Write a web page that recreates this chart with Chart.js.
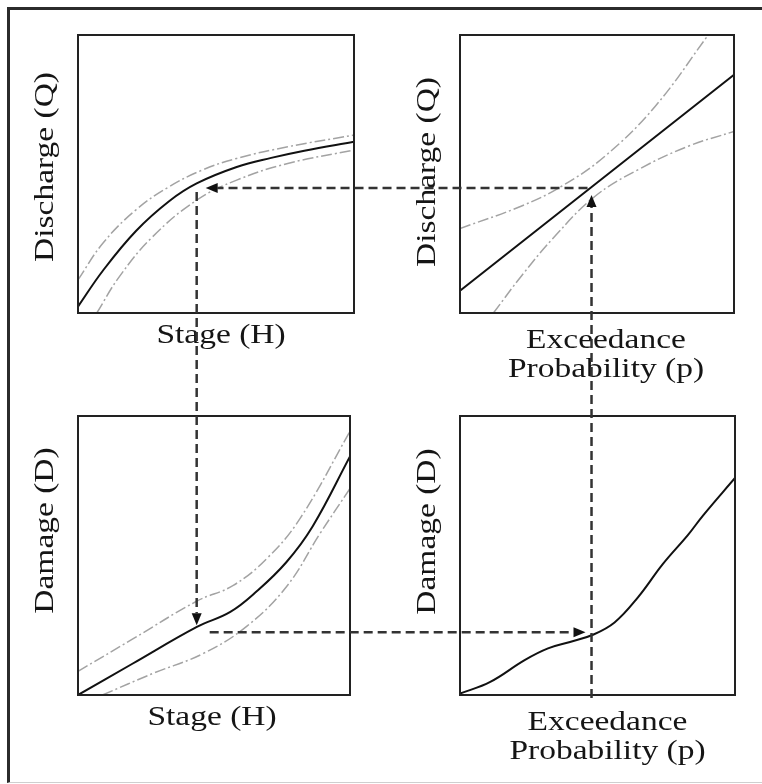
<!DOCTYPE html>
<html>
<head>
<meta charset="utf-8">
<script src="https://cdn.jsdelivr.net/npm/chart.js@4.4.1/dist/chart.umd.min.js"></script>
<style>
  html, body { margin: 0; padding: 0; background: #fff; }
  #page { position: relative; width: 762px; height: 784px; overflow: hidden; }
  #frame {
    position: absolute; left: 7px; top: 7px; width: 760px; height: 772px;
    border-left: 3px solid #2b2b2b; border-top: 3px solid #2b2b2b; border-bottom: 1px solid #cfcfcf;
  }
  canvas { position: absolute; left: 0; top: 0; }
</style>
</head>
<body>
<div id="page">
  <div id="frame"></div>
  <canvas id="tl" width="762" height="784"></canvas>
  <canvas id="tr" width="762" height="784"></canvas>
  <canvas id="bl" width="762" height="784"></canvas>
  <canvas id="br" width="762" height="784"></canvas>
</div>
<script>
// Stage-discharge (rating curve), top left
const stageH = [0, 0.09, 0.21, 0.33, 0.43, 0.575, 0.70, 0.82, 1.0];
const dischargeQ = [0.023, 0.152, 0.295, 0.402, 0.466, 0.525, 0.558, 0.584, 0.616];
const stageUpperH = [0, 0.09, 0.21, 0.33, 0.45, 0.575, 0.76, 1.0];
const dischargeUpperQ = [0.119, 0.251, 0.371, 0.454, 0.514, 0.556, 0.598, 0.640];
const stageLowerH = [0.068, 0.15, 0.27, 0.43, 0.575, 0.76, 1.0];
const dischargeLowerQ = [0, 0.131, 0.274, 0.406, 0.478, 0.538, 0.586];

// Discharge-frequency, top right
const probP = [0, 1];
const freqQ = [0.08, 0.857];
const probUpperP = [0, 0.225, 0.371, 0.529, 0.712, 0.906];
const freqUpperQ = [0.304, 0.385, 0.456, 0.564, 0.743, 1.0];
const probLowerP = [0.122, 0.225, 0.347, 0.493, 0.651, 0.833, 1.0];
const freqLowerQ = [0, 0.134, 0.277, 0.420, 0.516, 0.600, 0.653];

// Stage-damage, bottom left
const dmgStageH = [0, 0.2, 0.437, 0.56, 0.655, 0.765, 0.863, 1.0];
const damageD = [0, 0.112, 0.244, 0.298, 0.37, 0.475, 0.605, 0.855];
const dmgStageUpperH = [0, 0.2, 0.436, 0.571, 0.694, 0.816, 1.0];
const damageUpperD = [0.085, 0.2, 0.336, 0.393, 0.489, 0.632, 0.945];
const dmgStageLowerH = [0.09, 0.277, 0.461, 0.62, 0.767, 0.89, 1.0];
const damageLowerD = [0, 0.078, 0.149, 0.246, 0.389, 0.579, 0.74];

// Damage-frequency, bottom right
const dmgProbP = [0, 0.11, 0.235, 0.32, 0.40, 0.481, 0.562, 0.647, 0.738, 0.83, 0.885, 1.0];
const dmgFreqD = [0.005, 0.047, 0.125, 0.167, 0.19, 0.215, 0.26, 0.35, 0.47, 0.575, 0.645, 0.778];

// Values traced by the dashed arrows
const pStar = 0.48;
const qStar = 0.45;
const hStar = 0.43;
const dStar = 0.225;

// Axis titles
const stageTitle = ['Stage (H)'];
const probTitle = ['Exceedance', 'Probability (p)'];
const dischargeTitle = 'Discharge (Q)';
const damageTitle = 'Damage (D)';

const W = 762, H = 784;
const FONT = '27px "Liberation Serif", "Times New Roman", serif';
const STRETCH = 1.24;

function pts(xs, ys) {
  return xs.map((x, i) => ({ x: x, y: ys[i] }));
}

function band(xs, ys) {
  return {
    data: pts(xs, ys),
    borderColor: '#a3a3a3',
    borderWidth: 1.5,
    borderDash: [11, 3, 2, 3],
    pointRadius: 0,
    tension: 0.4
  };
}

function mainLine(xs, ys) {
  return {
    data: pts(xs, ys),
    borderColor: '#111',
    borderWidth: 2,
    pointRadius: 0,
    tension: 0.4
  };
}

// box around the plot area + the stretched serif axis titles
const panelPlugin = {
  id: 'panel',
  afterDraw(chart, args, opts) {
    const ctx = chart.ctx;
    const a = chart.chartArea;
    ctx.save();
    ctx.strokeStyle = '#222';
    ctx.lineWidth = 2;
    ctx.setLineDash([]);
    ctx.strokeRect(a.left, a.top, a.right - a.left, a.bottom - a.top);

    ctx.fillStyle = '#151515';
    ctx.font = FONT;
    ctx.textAlign = 'center';
    ctx.textBaseline = 'alphabetic';
    const cx = (a.left + a.right) / 2 + opts.xShift;
    opts.xTitle.forEach((line, i) => {
      ctx.save();
      ctx.translate(cx, a.bottom + opts.xBase + i * 29);
      ctx.scale(STRETCH, 1);
      ctx.fillText(line, 0, 0);
      ctx.restore();
    });
    ctx.save();
    ctx.translate(a.left - 25, (a.top + a.bottom) / 2 + opts.yShift);
    ctx.rotate(-Math.PI / 2);
    ctx.scale(STRETCH, 1);
    ctx.fillText(opts.yTitle, 0, 0);
    ctx.restore();
    ctx.restore();
  }
};

function arrowHead(ctx, x, y, dx, dy) {
  const len = 12, half = 5;
  const bx = x - dx * len, by = y - dy * len;
  ctx.beginPath();
  ctx.moveTo(x, y);
  ctx.lineTo(bx - dy * half, by + dx * half);
  ctx.lineTo(bx + dy * half, by - dx * half);
  ctx.closePath();
  ctx.fill();
}

function dashed(ctx, x1, y1, x2, y2) {
  ctx.beginPath();
  ctx.moveTo(x1, y1);
  ctx.lineTo(x2, y2);
  ctx.stroke();
}

let tlChart, trChart, blChart;

// the dashed path p -> Q -> H -> D -> p, drawn over all four panels
const arrowPlugin = {
  id: 'arrows',
  afterDraw(chart) {
    const ctx = chart.ctx;
    const pX = trChart.scales.x.getPixelForValue(pStar);
    const qTR = trChart.scales.y.getPixelForValue(qStar);
    const qY = tlChart.scales.y.getPixelForValue(qStar);
    const hX = tlChart.scales.x.getPixelForValue(hStar);
    const dY = chart.scales.y.getPixelForValue(dStar);
    const baseY = chart.scales.y.getPixelForValue(0);

    ctx.save();
    ctx.strokeStyle = '#333';
    ctx.fillStyle = '#111';
    ctx.lineWidth = 2.5;
    ctx.setLineDash([9, 5]);

    // up from the probability axis to the frequency curve
    const tipA = qTR + 7;
    dashed(ctx, pX, baseY + 3, pX, tipA + 12);
    // left to the rating curve
    const tipB = hX + 9;
    dashed(ctx, pX - 4, qY, tipB + 12, qY);
    // down to the stage-damage curve
    const tipC = dY - 7;
    dashed(ctx, hX, qY + 4, hX, tipC - 12);
    // right to the damage-frequency curve
    const tipD = pX - 6;
    dashed(ctx, hX + 13, dY, tipD - 12, dY);

    ctx.setLineDash([]);
    arrowHead(ctx, pX, tipA, 0, -1);
    arrowHead(ctx, tipB, qY, -1, 0);
    arrowHead(ctx, hX, tipC, 0, 1);
    arrowHead(ctx, tipD, dY, 1, 0);
    ctx.restore();
  }
};

function makeChart(id, rect, datasets, titles, extra) {
  return new Chart(document.getElementById(id), {
    type: 'line',
    data: { datasets: datasets },
    options: {
      responsive: false,
      animation: false,
      devicePixelRatio: 1,
      events: [],
      layout: {
        padding: { left: rect[0], top: rect[1], right: W - rect[2], bottom: H - rect[3] }
      },
      scales: {
        x: { type: 'linear', min: 0, max: 1, display: false },
        y: { type: 'linear', min: 0, max: 1, display: false }
      },
      plugins: {
        legend: { display: false },
        tooltip: { enabled: false },
        panel: titles
      }
    },
    plugins: [panelPlugin].concat(extra || [])
  });
}

tlChart = makeChart('tl', [78, 35, 354, 313], [
  band(stageUpperH, dischargeUpperQ),
  band(stageLowerH, dischargeLowerQ),
  mainLine(stageH, dischargeQ)
], { xTitle: stageTitle, xBase: 30, xShift: 5, yTitle: dischargeTitle, yShift: -7 });

trChart = makeChart('tr', [460, 35, 734, 313], [
  band(probUpperP, freqUpperQ),
  band(probLowerP, freqLowerQ),
  mainLine(probP, freqQ)
], { xTitle: probTitle, xBase: 35, xShift: 9, yTitle: dischargeTitle, yShift: -2 });

blChart = makeChart('bl', [78, 416, 350, 695], [
  band(dmgStageUpperH, damageUpperD),
  band(dmgStageLowerH, damageLowerD),
  mainLine(dmgStageH, damageD)
], { xTitle: stageTitle, xBase: 30, xShift: -2, yTitle: damageTitle, yShift: -25 });

makeChart('br', [460, 416, 735, 695], [
  mainLine(dmgProbP, dmgFreqD)
], { xTitle: probTitle, xBase: 35, xShift: 10, yTitle: damageTitle, yShift: -24 }, [arrowPlugin]);
</script>
</body>
</html>
